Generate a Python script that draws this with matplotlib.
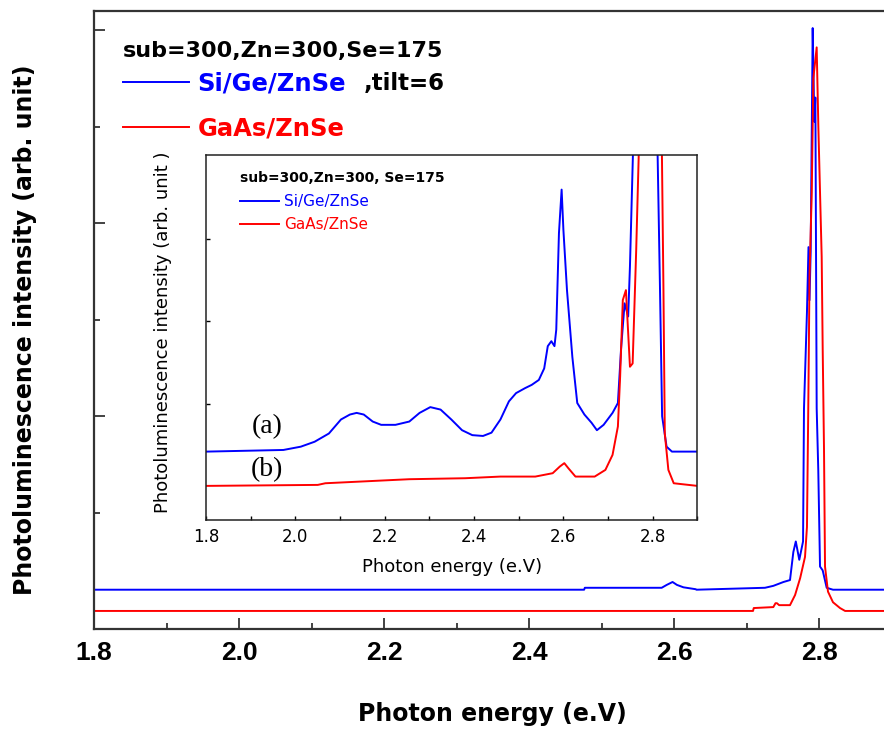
import matplotlib
matplotlib.use('Agg')
import matplotlib.pyplot as plt
from matplotlib.ticker import MultipleLocator, NullLocator

plt.rcParams['font.family'] = ['DejaVu Sans']

# ---- data (arbitrary intensity units) ----
x_ticks = [1.8, 2.0, 2.2, 2.4, 2.6, 2.8]
x_tick_labels = ['1.8', '2.0', '2.2', '2.4', '2.6', '2.8']

# main panel, Si/Ge/ZnSe (blue)
main_sige_e = [1.80, 2.476, 2.477, 2.583, 2.590, 2.598, 2.604, 2.613, 2.630, 2.631,
               2.7255, 2.737, 2.751, 2.760, 2.7646, 2.768, 2.7728, 2.778, 2.7793,
               2.7834, 2.7855, 2.7869, 2.7885, 2.7913, 2.7925, 2.7935, 2.7950,
               2.7968, 2.7990, 2.8014, 2.8051, 2.8106, 2.8193, 2.90]
main_sige_i = [0.20, 0.20, 0.22, 0.22, 0.25, 0.28, 0.25, 0.225, 0.205, 0.20,
               0.22, 0.24, 0.28, 0.30, 0.59, 0.70, 0.51, 0.70, 2.08,
               3.08, 3.75, 3.20, 3.70, 6.02, 5.50, 5.05, 5.30,
               2.08, 1.44, 0.44, 0.40, 0.22, 0.20, 0.20]

# main panel, GaAs/ZnSe (red)
main_gaas_e = [1.80, 2.709, 2.710, 2.737, 2.740, 2.742, 2.745, 2.760, 2.767, 2.774,
               2.7807, 2.7834, 2.7852, 2.7869, 2.7900, 2.7922, 2.7968, 2.7991,
               2.8014, 2.8037, 2.8051, 2.8069, 2.8083, 2.8124, 2.8193, 2.8290,
               2.836, 2.90]
main_gaas_i = [-0.02, -0.02, 0.01, 0.02, 0.06, 0.06, 0.04, 0.04, 0.145, 0.32,
               0.54, 0.85, 2.08, 3.43, 4.32, 5.50, 5.82, 5.00,
               4.32, 3.65, 2.69, 1.66, 0.44, 0.18, 0.07, 0.01,
               -0.02, -0.02]

# inset, Si/Ge/ZnSe (blue)
inset_sige_e = [1.800, 1.973, 2.012, 2.043, 2.075, 2.102, 2.122, 2.137, 2.153, 2.173,
                2.192, 2.224, 2.255, 2.278, 2.302, 2.325, 2.349, 2.373, 2.396, 2.420,
                2.439, 2.459, 2.478, 2.494, 2.514, 2.529, 2.545, 2.557, 2.565, 2.573,
                2.580, 2.584, 2.590, 2.596, 2.600, 2.608, 2.620, 2.631, 2.647, 2.663,
                2.675, 2.690, 2.710, 2.722, 2.729, 2.737, 2.745, 2.749, 2.757, 2.810,
                2.816, 2.821, 2.831, 2.843, 2.900]
inset_sige_i = [0.42, 0.44, 0.48, 0.54, 0.64, 0.81, 0.87, 0.89, 0.87, 0.785,
                0.745, 0.745, 0.785, 0.89, 0.96, 0.93, 0.81, 0.68, 0.62, 0.61,
                0.65, 0.81, 1.03, 1.13, 1.19, 1.23, 1.29, 1.43, 1.70, 1.76,
                1.70, 1.90, 3.07, 3.60, 3.11, 2.38, 1.57, 1.01, 0.87, 0.77,
                0.68, 0.745, 0.89, 1.01, 1.66, 2.22, 2.06, 2.67, 4.30, 4.30,
                2.47, 0.85, 0.48, 0.42, 0.42]

# inset, GaAs/ZnSe (red)
inset_gaas_e = [1.800, 2.050, 2.067, 2.224, 2.255, 2.380, 2.459, 2.537, 2.576, 2.592,
                2.602, 2.611, 2.627, 2.670, 2.694, 2.710, 2.722, 2.727, 2.733, 2.740,
                2.745, 2.749, 2.755, 2.763, 2.770, 2.820, 2.824, 2.827, 2.835, 2.847,
                2.900]
inset_gaas_i = [0.004, 0.016, 0.036, 0.077, 0.085, 0.097, 0.117, 0.117, 0.158, 0.239,
                0.28, 0.219, 0.117, 0.117, 0.198, 0.38, 0.725, 1.33, 2.26, 2.38,
                1.86, 1.45, 1.49, 2.87, 4.30, 4.30, 2.38, 0.64, 0.198, 0.036,
                0.004]

header = 'sub=300,Zn=300,Se=175'
inset_header = 'sub=300,Zn=300, Se=175'
name_sige = 'Si/Ge/ZnSe'
name_gaas = 'GaAs/ZnSe'

BLUE = '#0000ff'
RED = '#ff0000'
W, H = 884, 729


def box(left, top, right, bottom):
    return [left / W, 1 - bottom / H, (right - left) / W, (bottom - top) / H]


fig = plt.figure(figsize=(W / 100, H / 100), dpi=100)

# ---------------- main panel ----------------
ax = fig.add_axes(box(94, 10.7, 891.5, 628.7))
l_sige, = ax.plot(main_sige_e, main_sige_i, color=BLUE, lw=1.4, label=name_sige)
l_gaas, = ax.plot(main_gaas_e, main_gaas_i, color=RED, lw=1.4, label=name_gaas)
ax.set_xlim(1.8, 2.9)
ax.set_ylim(-0.204, 6.2)

for s in ax.spines.values():
    s.set_linewidth(1.6)
    s.set_color('#333333')

ax.set_xticks(x_ticks, labels=x_tick_labels, fontfamily='Liberation Sans',
              fontweight='bold', fontsize=19)
ax.xaxis.set_minor_locator(MultipleLocator(0.1))
ax.set_yticks([2, 4, 6], labels=[])
ax.set_yticks([1, 3, 5], minor=True)
ax.tick_params(which='major', direction='in', length=8, width=1.2, pad=9,
               top=False, right=False, color='#222222')
ax.tick_params(which='minor', direction='in', length=4, width=1.2,
               top=False, right=False, color='#222222')

ax.set_xlabel('Photon energy (e.V)', fontsize=17, fontweight='bold')
ax.xaxis.set_label_coords(0.5, -0.118)
fig.text(25 / W, 1 - 330 / H, 'Photoluminescence intensity (arb. unit)',
         rotation=90, ha='center', va='center', fontsize=17, fontweight='bold')

ax.text(0.0364, 0.9348, header, transform=ax.transAxes, ha='left', va='center',
        fontsize=16, fontweight='bold')
leg = ax.legend(handles=[l_sige, l_gaas], loc='upper left',
                bbox_to_anchor=(0.0364, 0.9018), frameon=False, borderpad=0,
                borderaxespad=0, handlelength=2.72, handletextpad=0.35,
                labelspacing=0.85, prop={'size': 17.5, 'weight': 'bold'})
for txt, c in zip(leg.get_texts(), [BLUE, RED]):
    txt.set_color(c)
ax.annotate(',tilt=6', xy=(1, 0.5), xycoords=leg.get_texts()[0],
            xytext=(13, 0), textcoords='offset points', ha='left', va='center',
            fontsize=16.5, fontweight='bold', zorder=6)

# ---------------- inset ----------------
axi = fig.add_axes(box(206.1, 155, 697.4, 520))
li_sige, = axi.plot(inset_sige_e, inset_sige_i, color=BLUE, lw=1.4, label=name_sige)
li_gaas, = axi.plot(inset_gaas_e, inset_gaas_i, color=RED, lw=1.4, label=name_gaas)
axi.set_xlim(1.8, 2.9)
axi.set_ylim(-0.41, 4.02)
for s in axi.spines.values():
    s.set_linewidth(1.1)
    s.set_color('#222222')
axi.set_xticks(x_ticks, labels=x_tick_labels, fontsize=12)
axi.xaxis.set_minor_locator(MultipleLocator(0.1))
axi.set_yticks([1, 2, 3], labels=[])
axi.yaxis.set_minor_locator(NullLocator())
axi.tick_params(which='both', direction='in', length=3, width=1.0, pad=6,
                top=False, right=False)
axi.set_xlabel('Photon energy (e.V)', fontsize=13)
axi.xaxis.set_label_coords(0.5, -0.104)
fig.text(163 / W, 1 - 332 / H, 'Photoluminescence intensity (arb. unit )',
         rotation=90, ha='center', va='center', fontsize=13)

axi.text(0.068, 0.936, inset_header, transform=axi.transAxes, ha='left',
         va='center', fontsize=10, fontweight='bold')
legi = axi.legend(handles=[li_sige, li_gaas], loc='upper left',
                  bbox_to_anchor=(0.068, 0.893), frameon=False, borderpad=0,
                  borderaxespad=0, handlelength=2.6, handletextpad=0.32,
                  labelspacing=0.55, prop={'size': 11})
for txt, c in zip(legi.get_texts(), [BLUE, RED]):
    txt.set_color(c)

axi.text(0.124, 0.255, '(a)', transform=axi.transAxes, ha='center', va='center',
         fontsize=20, fontfamily='Liberation Serif')
axi.text(0.124, 0.137, '(b)', transform=axi.transAxes, ha='center', va='center',
         fontsize=20, fontfamily='Liberation Serif')

fig.savefig('out.png', dpi=100)
